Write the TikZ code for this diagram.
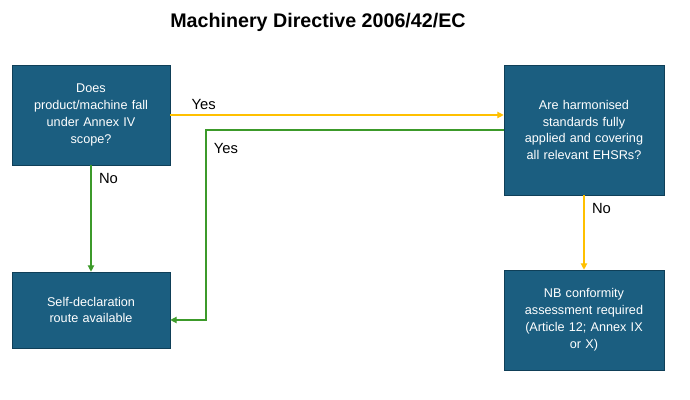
\documentclass[tikz,border=0pt]{standalone}
\usepackage{fontspec}
\setmainfont{Liberation Sans}
\usetikzlibrary{arrows.meta}
\definecolor{boxfill}{HTML}{1B5E80}
\definecolor{boxline}{HTML}{0F3F58}
\definecolor{yesyel}{HTML}{FFC000}
\definecolor{nogreen}{HTML}{3C9A2A}
\tikzset{
  flowbox/.style={draw=boxline, fill=boxfill, text=white, align=center, font=\fontsize{9}{12}\selectfont, inner sep=2pt},
  yel/.style={draw=yesyel, thick, -{Triangle[length=1.6mm,width=1.6mm]}},
  grn/.style={draw=nogreen, thick, -{Triangle[length=1.6mm,width=1.6mm]}},
  lbl/.style={font=\fontsize{10.5}{12}\selectfont}
}
\begin{document}
\begin{tikzpicture}
  \useasboundingbox (0,0) rectangle (17.25,-10);
  \node[font=\bfseries\fontsize{14}{16}\selectfont] (title) at (7.95,-0.55) {Machinery Directive 2006/42/EC};

  \node[flowbox, minimum width=3.95cm, minimum height=2.5cm, text width=3.4cm] (scope) at (2.275,-2.875) {Does\\product/machine fall\\under Annex IV\\scope?};
  \node[flowbox, minimum width=4cm, minimum height=3.25cm, text width=3.5cm] (harm) at (14.6,-3.25) {Are harmonised\\standards fully\\applied and covering\\all relevant EHSRs?};
  \node[flowbox, minimum width=3.95cm, minimum height=1.9cm, text width=3.4cm] (self) at (2.275,-7.75) {Self-declaration\\route available};
  \node[flowbox, minimum width=4cm, minimum height=2.5cm, text width=3.5cm] (nb) at (14.6,-8) {NB conformity\\assessment required\\(Article 12; Annex IX\\or X)};

  \coordinate (bend) at (5.15,-3.25);

  \draw[yel] (scope.east) -- (scope.east -| harm.west) node[lbl, pos=0.1, above] {Yes};
  \draw[grn] (harm.west) -- (bend) |- ([yshift=-0.25cm]self.east);
  \node[lbl] (yes2) at (5.65,-3.7) {Yes};
  \draw[grn] (scope.south) -- (self.north) node[lbl, pos=0.12, right=2pt] {No};
  \draw[yel] (harm.south) -- (nb.north) node[lbl, pos=0.18, right=2pt] {No};
\end{tikzpicture}
\end{document}
